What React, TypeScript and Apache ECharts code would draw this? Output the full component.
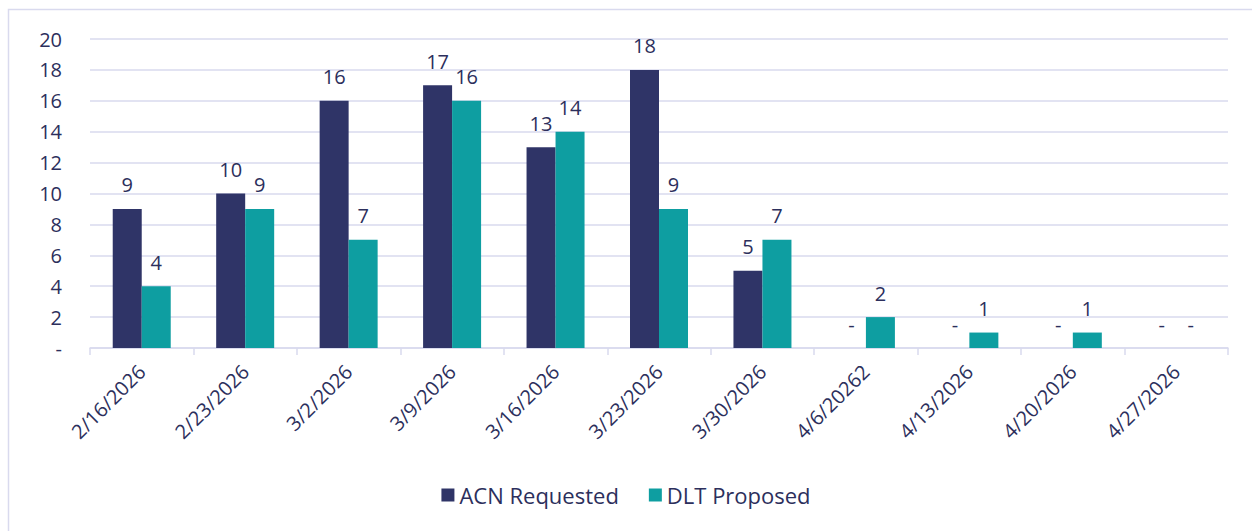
import React, { useEffect, useRef } from "react";
import * as echarts from "echarts";

const categories = ["2/16/2026", "2/23/2026", "3/2/2026", "3/9/2026", "3/16/2026", "3/23/2026", "3/30/2026", "4/6/20262", "4/13/2026", "4/20/2026", "4/27/2026"];
const acnRequested = [9, 10, 16, 17, 13, 18, 5, 0, 0, 0, 0];
const dltProposed = [4, 9, 7, 16, 14, 9, 7, 2, 1, 1, 0];
const seriesNames = ["ACN Requested", "DLT Proposed"];

const TEXT = "#2C2F5C";
const GRID = "#D9DAEE";
const FONT = "Open Sans";

export default function App() {
  const ref = useRef<HTMLDivElement>(null);
  useEffect(() => {
    if (!ref.current) return;
    const chart = echarts.init(ref.current, null, { renderer: "svg" });
    const label = {
      show: true,
      position: "top",
      distance: 14,
      color: TEXT,
      fontFamily: FONT,
      fontSize: 20,
      formatter: (p: any) => (p.value === 0 ? "-" : String(p.value)),
    };
    chart.setOption({
      animation: false,
      backgroundColor: "#ffffff",
      textStyle: { fontFamily: FONT },
      graphic: [
        {
          type: "rect",
          shape: { x: 8.5, y: 9.5, width: 1300, height: 600 },
          style: { fill: "none", stroke: GRID, lineWidth: 1.5 },
          silent: true,
        },
      ],
      grid: { left: 90, right: 24, top: 39, bottom: 183, containLabel: false },
      legend: {
        bottom: 20,
        left: "center",
        itemWidth: 13,
        itemHeight: 13,
        itemGap: 30,
        icon: "rect",
        textStyle: { color: TEXT, fontFamily: FONT, fontSize: 22 },
        data: seriesNames,
      },
      xAxis: {
        type: "category",
        data: categories,
        axisLine: { lineStyle: { color: GRID, width: 1.5 } },
        axisTick: { show: true, length: 7, lineStyle: { color: GRID, width: 1.5 } },
        axisLabel: { rotate: 45, color: TEXT, fontFamily: FONT, fontSize: 20, margin: 20 },
      },
      yAxis: {
        type: "value",
        min: 0,
        max: 20,
        interval: 2,
        axisLine: { show: false },
        axisTick: { show: false },
        splitLine: { lineStyle: { color: GRID, width: 1.5 } },
        axisLabel: {
          color: TEXT,
          fontFamily: FONT,
          fontSize: 20,
          margin: 28,
          formatter: (v: number) => (v === 0 ? "-" : String(v)),
        },
      },
      series: [
        {
          name: seriesNames[0],
          type: "bar",
          data: acnRequested,
          barWidth: 29,
          barGap: "0%",
          itemStyle: { color: "#2F3467" },
          label,
        },
        {
          name: seriesNames[1],
          type: "bar",
          data: dltProposed,
          barWidth: 29,
          barGap: "0%",
          itemStyle: { color: "#0E9EA1" },
          label,
        },
      ],
    });
    return () => chart.dispose();
  }, []);
  return (
    <div
      ref={ref}
      style={{ position: "absolute", left: 0, top: 0, width: 1252, height: 531 }}
    />
  );
}
